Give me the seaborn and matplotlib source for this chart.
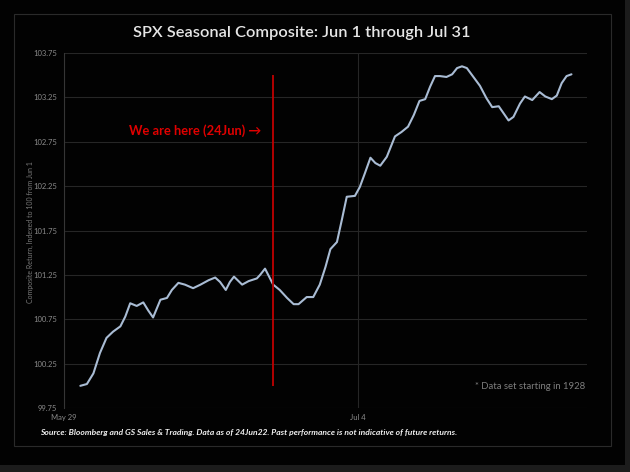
import matplotlib
matplotlib.use("Agg")
import matplotlib.pyplot as plt
import seaborn as sns
import pandas as pd
from matplotlib.patches import Rectangle

# ---- data ----
days = [2.0, 2.8, 3.6, 4.4, 5.2, 6.0, 6.9, 7.5, 8.1, 8.9, 9.7, 10.3, 10.9, 11.8, 12.6,
        13.2, 14.0, 14.8, 15.8, 16.7, 17.7, 18.5, 19.1, 19.8, 20.3, 20.8, 21.8, 22.6,
        23.6, 24.0, 24.6, 25.6, 26.4, 27.3, 28.1, 28.7, 29.7, 30.5, 31.3, 32.0, 32.6,
        33.4, 34.0, 34.6, 35.6, 36.2, 36.8, 37.5, 38.1, 38.7, 39.5, 40.5, 41.3, 42.1,
        42.8, 43.5, 44.2, 44.8, 45.4, 46.0, 46.8, 47.5, 48.1, 48.7, 49.3, 50.1, 50.9,
        51.7, 52.4, 53.2, 53.8, 54.4, 55.0, 55.8, 56.4, 57.3, 58.2, 58.9, 59.7, 60.3,
        60.9, 61.5, 62.1]
values = [100.00, 100.02, 100.14, 100.37, 100.54, 100.61, 100.67, 100.78, 100.93, 100.90,
          100.94, 100.85, 100.77, 100.97, 100.99, 101.08, 101.16, 101.14, 101.10, 101.14,
          101.19, 101.22, 101.17, 101.08, 101.17, 101.23, 101.14, 101.18, 101.21, 101.25,
          101.32, 101.14, 101.08, 100.99, 100.92, 100.92, 101.00, 101.00, 101.14, 101.34,
          101.54, 101.62, 101.87, 102.13, 102.14, 102.24, 102.39, 102.57, 102.51, 102.48,
          102.58, 102.81, 102.86, 102.92, 103.05, 103.21, 103.23, 103.37, 103.49, 103.49,
          103.48, 103.51, 103.58, 103.60, 103.58, 103.48, 103.38, 103.24, 103.14, 103.15,
          103.07, 102.99, 103.03, 103.18, 103.26, 103.22, 103.31, 103.26, 103.23, 103.27,
          103.41, 103.49, 103.51]
y_ticks = [99.75, 100.25, 100.75, 101.25, 101.75, 102.25, 102.75, 103.25, 103.75]
x_ticks = [0, 36]
x_tick_labels = ["May 29", "Jul 4"]
marker_day = 25.6
marker_range = [100.0, 103.5]

title = "SPX Seasonal Composite: Jun 1 through Jul 31"
ylabel = "Composite Return, Indexed to 100 from Jun 1"
note = "We are here (24Jun) \u2192"
footnote = "* Data set starting in 1928"
source = ("Source: Bloomberg and GS Sales & Trading. Data as of 24Jun22. "
          "Past performance is not indicative of future returns.")

sns.set_theme(style="dark")
plt.rcParams["font.family"] = ["Lato", "DejaVu Sans"]

W, H = 630, 472
fig = plt.figure(figsize=(W / 100, H / 100), dpi=100, facecolor="#020202")

# outer lighter strips (right and bottom)
fig.patches.append(Rectangle((0, 0), 1, 7 / H, transform=fig.transFigure,
                             facecolor="#1c1c1c", edgecolor="none", zorder=0))
fig.patches.append(Rectangle((625 / W, 0), 5 / W, 1, transform=fig.transFigure,
                             facecolor="#1c1c1c", edgecolor="none", zorder=0))
# inner chart frame
fig.patches.append(Rectangle((14 / W, 1 - 446 / H), (611 - 14) / W, (446 - 14) / H,
                             transform=fig.transFigure, facecolor="none",
                             edgecolor="#2a2a2a", linewidth=0.8, zorder=1))

ax = fig.add_axes([64 / W, 1 - 408 / H, (587 - 64) / W, (408 - 53) / H])
ax.set_facecolor("#020202")

df = pd.DataFrame({"day": days, "value": values})
sns.lineplot(data=df, x="day", y="value", ax=ax, color="#a9bcd4", linewidth=1.5,
             zorder=3)

ax.vlines(marker_day, marker_range[0], marker_range[1], color="#c00000",
          linewidth=1.3, zorder=4)

ax.set_xlim(0, 64)
ax.set_ylim(y_ticks[0], y_ticks[-1])
ax.set_yticks(y_ticks)
ax.set_yticklabels([f"{v:.2f}" for v in y_ticks])
ax.set_xticks(x_ticks)
ax.set_xticklabels(x_tick_labels)
ax.tick_params(axis="both", colors="#8a8a8a", labelsize=5.5, length=0, pad=5)
ax.tick_params(axis="x", pad=4)

ax.grid(True, axis="y", color="#262626", linewidth=0.8)
ax.grid(True, axis="x", color="#262626", linewidth=0.8)
for s in ["top", "right", "bottom"]:
    ax.spines[s].set_visible(False)
ax.spines["left"].set_color("#353535")
ax.spines["left"].set_linewidth(0.8)

ax.set_xlabel("")
ax.set_ylabel("")

fig.text(302 / W, 1 - 33 / H, title, ha="center", va="center", color="#e6e6e6",
         fontsize=11.8, fontweight="semibold")
fig.text(30 / W, 1 - 232 / H, ylabel, ha="center", va="center", rotation=90,
         color="#7a7a7a", fontsize=5)
ax.text(marker_day - 1.5, 102.87, note, ha="right", va="center", color="#e00000",
        fontsize=9.3, fontweight="bold", family=["Lato", "DejaVu Sans"])
ax.text(63.8, 99.99, footnote, ha="right", va="center", color="#7e7e7e", fontsize=6.8)
fig.text(40 / W, 1 - 432 / H, source, ha="left", va="center", color="#f0f0f0",
         fontsize=6.1, fontweight="bold", fontstyle="italic")

fig.savefig("out.png", dpi=100, facecolor=fig.get_facecolor())
